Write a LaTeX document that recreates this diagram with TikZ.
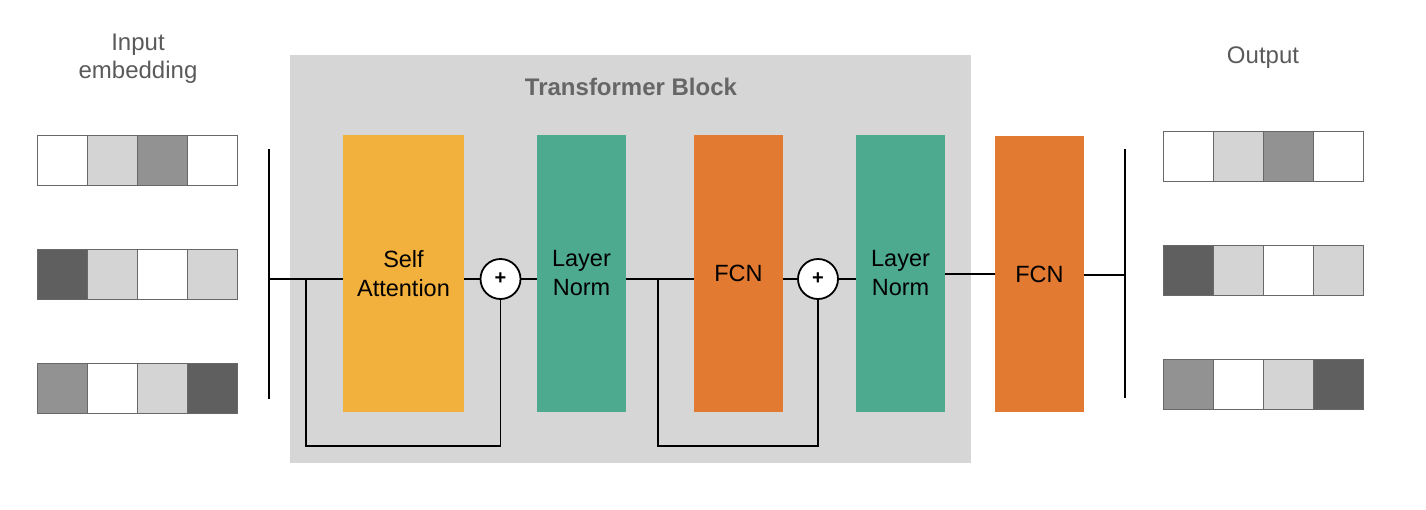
\documentclass[tikz,border=0pt]{standalone}
\usepackage{fontspec}
\setmainfont{Liberation Sans}
\usetikzlibrary{calc}
\definecolor{blockgray}{HTML}{D6D6D6}
\definecolor{cW}{HTML}{FFFFFF}
\definecolor{cL}{HTML}{D4D4D4}
\definecolor{cM}{HTML}{929292}
\definecolor{cD}{HTML}{5F5F5F}
\definecolor{saorange}{HTML}{F2B03D}
\definecolor{lngreen}{HTML}{4DAA8F}
\definecolor{fcnorange}{HTML}{E37A31}
\definecolor{celledge}{HTML}{686868}
\definecolor{captext}{HTML}{5A5A5A}
\definecolor{titletext}{HTML}{666666}
\tikzset{
  layerbox/.style={rectangle, inner sep=0pt, minimum height=277pt, font=\fontsize{23.5}{29}\selectfont, align=center, text=black},
  addnode/.style={circle, draw=black, line width=1.8pt, fill=white, minimum size=40pt, inner sep=0pt, font=\fontsize{20}{20}\selectfont\bfseries},
  wire/.style={draw=black, line width=1.8pt},
  cell/.style={draw=celledge, line width=1pt},
  caption/.style={font=\fontsize{24}{28}\selectfont, text=captext, align=center},
}
\begin{document}
\begin{tikzpicture}[x=1pt,y=-1pt]
\useasboundingbox (0,0) rectangle (1426,509);
% transformer block background
\node[rectangle, fill=blockgray, inner sep=0pt, minimum width=681pt, minimum height=408pt] (block) at (630.5,259) {};
\node[font=\fontsize{24}{28}\selectfont\bfseries, text=titletext] (title) at (631,87) {Transformer Block};
% captions
\node[caption] (incap) at (138,58.5) {Input\\embedding};
\node[caption] (outcap) at (1263,58) {Output};
% embeddings
\def\rowA{cW,cL,cM,cW}
\def\rowB{cD,cL,cW,cL}
\def\rowC{cM,cW,cL,cD}
\foreach \x/\y in {37/135, 1163/131}{
  \foreach \c [count=\i from 0] in \rowA {\filldraw[cell, fill=\c] (\x+50*\i,\y) rectangle ++(50,50);}
}
\foreach \x/\y in {37/249, 1163/245}{
  \foreach \c [count=\i from 0] in \rowB {\filldraw[cell, fill=\c] (\x+50*\i,\y) rectangle ++(50,50);}
}
\foreach \x/\y in {37/363, 1163/359}{
  \foreach \c [count=\i from 0] in \rowC {\filldraw[cell, fill=\c] (\x+50*\i,\y) rectangle ++(50,50);}
}
% layers
\node[layerbox, fill=saorange, minimum width=121pt] (sa) at (403.5,273.5) {Self\\Attention};
\node[addnode] (add1) at (500.5,279) {+};
\node[layerbox, fill=lngreen, minimum width=89pt] (ln1) at (581.5,273.5) {Layer\\Norm};
\node[layerbox, fill=fcnorange, minimum width=89pt] (fcn1) at (738.5,273.5) {FCN};
\node[addnode] (add2) at (818,279) {+};
\node[layerbox, fill=lngreen, minimum width=89pt] (ln2) at (900.5,273.5) {Layer\\Norm};
\node[layerbox, fill=fcnorange, minimum width=89pt, minimum height=276pt] (fcn2) at (1039.5,274) {FCN};
% bars
\coordinate (barLt) at (269,149);
\coordinate (barLb) at (269,399);
\coordinate (barLm) at (269,279);
\coordinate (barRt) at (1125,149);
\coordinate (barRb) at (1125,398);
\coordinate (barRm) at (1125,275);
\draw[wire] (barLt) -- (barLb);
\draw[wire] (barRt) -- (barRb);
% skip points
\coordinate (skip1) at (306,279);
\coordinate (skip1b) at (306,446);
\coordinate (skip2) at (658,279);
\coordinate (skip2b) at (658,446);
% connectors
\draw[wire] (barLm) -- (sa.west |- barLm);
\draw[wire] (sa.east |- add1) -- (add1.west);
\draw[wire] (add1.east) -- (ln1.west |- add1);
\draw[wire] (ln1.east |- add1) -- (fcn1.west |- add1);
\draw[wire] (fcn1.east |- add2) -- (add2.west);
\draw[wire] (add2.east) -- (ln2.west |- add2);
\draw[wire] (ln2.east |- fcn2) -- (fcn2.west);
\draw[wire] (fcn2.east |- barRm) -- (barRm);
\draw[wire] (skip1) -- (skip1b) -- (add1.south |- skip1b) -- (add1.south);
\draw[wire] (skip2) -- (skip2b) -- (add2.south |- skip2b) -- (add2.south);
\end{tikzpicture}
\end{document}
